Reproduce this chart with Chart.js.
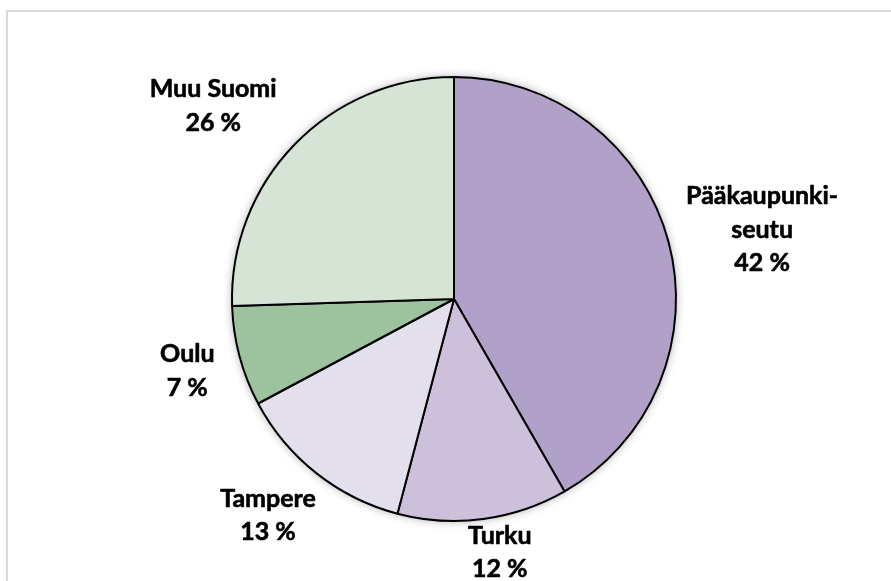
<!DOCTYPE html>
<html>
<head>
<meta charset="utf-8">
<script src="https://cdn.jsdelivr.net/npm/chart.js@4/dist/chart.umd.min.js"></script>
<style>
  html, body { margin: 0; padding: 0; background: #fff; }
  #wrap { width: 891px; height: 581px; position: relative; }
</style>
</head>
<body>
<div id="wrap"><canvas id="chart" width="891" height="581"></canvas></div>
<script>
// Chart data
const categories = [["Pääkaupunki-", "seutu"], "Turku", "Tampere", "Oulu", "Muu Suomi"];
const shares = [41.7, 12.4, 13.1, 7.3, 25.5];
const sliceColors = ["#b1a0c7", "#ccc0da", "#e4dfec", "#9dc39e", "#d6e4d6"];

// Label placement: distance from pie centre and small turn (deg) from slice middle
const labelDist = [316, 257, 285, 276, 309];
const labelTurn = [2.1, -2.7, 2.4, 0, -5.3];

const FONT = "bold 25px Lato, 'Open Sans', sans-serif";
const LINE_H = 33.5;
const CAP = 17.5;

// Frame around the picture (runs off the right and bottom edges)
const framePlugin = {
  id: "frame",
  beforeDraw(chart) {
    const ctx = chart.ctx;
    ctx.save();
    ctx.fillStyle = "#fff";
    ctx.fillRect(0, 0, chart.width, chart.height);
    ctx.strokeStyle = "#d9d9d9";
    ctx.lineWidth = 2;
    ctx.strokeRect(7, 11, 2000, 2000);
    ctx.restore();
  }
};

// Soft shadow under the pie
const shadowPlugin = {
  id: "pieShadow",
  beforeDatasetsDraw(chart) {
    const arc = chart.getDatasetMeta(0).data[0];
    if (!arc) return;
    const ctx = chart.ctx;
    ctx.save();
    ctx.shadowColor = "rgba(0,0,0,0.35)";
    ctx.shadowBlur = 10;
    ctx.fillStyle = "#fff";
    ctx.beginPath();
    ctx.arc(arc.x, arc.y, arc.outerRadius, 0, Math.PI * 2);
    ctx.fill();
    ctx.restore();
  }
};

// Category + percent labels outside the slices
const labelPlugin = {
  id: "outLabels",
  afterDatasetsDraw(chart) {
    const ctx = chart.ctx;
    const meta = chart.getDatasetMeta(0);
    ctx.save();
    ctx.font = FONT;
    ctx.fillStyle = "#000";
    ctx.strokeStyle = "#000";
    ctx.lineWidth = 0.6;
    ctx.lineJoin = "round";
    ctx.textAlign = "center";
    ctx.textBaseline = "alphabetic";
    meta.data.forEach((arc, i) => {
      const mid = (arc.startAngle + arc.endAngle) / 2 + labelTurn[i] * Math.PI / 180;
      const cx = arc.x + Math.cos(mid) * labelDist[i];
      const cy = arc.y + Math.sin(mid) * labelDist[i];
      const name = categories[i];
      const lines = (Array.isArray(name) ? name.slice() : [name]);
      lines.push(Math.round(shares[i]) + " %");
      const top = cy - (lines.length - 1) * LINE_H / 2;
      lines.forEach((t, k) => {
        const by = top + k * LINE_H + CAP / 2;
        ctx.fillText(t, cx, by);
        ctx.strokeText(t, cx, by);
      });
    });
    ctx.restore();
  }
};

new Chart(document.getElementById("chart"), {
  type: "pie",
  data: {
    labels: categories,
    datasets: [{
      data: shares,
      backgroundColor: sliceColors,
      borderColor: "#000",
      borderWidth: 2,
      hoverOffset: 0,
      offset: 0
    }]
  },
  options: {
    responsive: false,
    animation: false,
    events: [],
    layout: { padding: { left: 17, right: 0, top: 76, bottom: 59 } },
    plugins: {
      legend: { display: false },
      tooltip: { enabled: false }
    }
  },
  plugins: [framePlugin, shadowPlugin, labelPlugin]
});
</script>
</body>
</html>
